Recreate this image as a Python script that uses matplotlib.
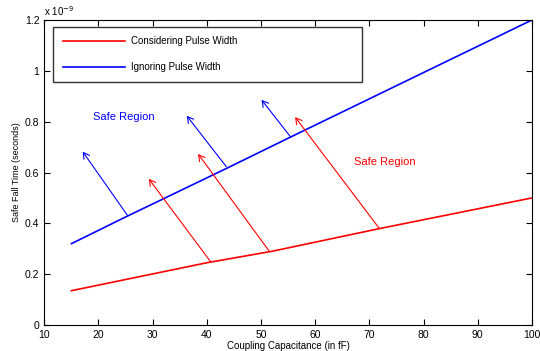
import matplotlib
matplotlib.use('Agg')
import matplotlib.pyplot as plt

# coupling capacitance (fF) and safe fall time (x 1e-9 s)
cap = [15, 40, 52, 72, 100]
t_pulse = [0.135, 0.245, 0.29, 0.38, 0.5]
cap_ign = [15, 25, 44, 55.5, 100]
t_ignore = [0.32, 0.425, 0.62, 0.74, 1.2]

# arrows: (base x, base y, tip x, tip y)
red_arrows = [(40.7, 0.249, 29.3, 0.575), (51.5, 0.291, 38.4, 0.673), (71.8, 0.381, 56.3, 0.818)]
blue_arrows = [(25.4, 0.43, 17.1, 0.682), (43.6, 0.623, 36.3, 0.823), (55.5, 0.739, 50.1, 0.886)]

plt.rcParams['font.family'] = ['Liberation Sans', 'DejaVu Sans']
plt.rcParams['font.size'] = 7

fig = plt.figure(figsize=(5.4, 3.51), dpi=100)
ax = fig.add_axes([0.082, 0.074, 0.903, 0.869])

ax.plot(cap, t_pulse, color='red', lw=1.2, label='Considering Pulse Width')
ax.plot(cap_ign, t_ignore, color='blue', lw=1.2, label='Ignoring Pulse Width')

for arrows, c in ((red_arrows, 'red'), (blue_arrows, 'blue')):
    for x0, y0, x1, y1 in arrows:
        ax.annotate('', xy=(x1, y1), xytext=(x0, y0),
                    arrowprops=dict(arrowstyle='->,head_length=0.6,head_width=0.35', color=c, lw=0.8,
                                    shrinkA=0, shrinkB=0))

ax.text(24.7, 0.819, 'Safe Region', color='blue', fontsize=8, ha='center', va='center')
ax.text(72.9, 0.643, 'Safe Region', color='red', fontsize=8, ha='center', va='center')

ax.set_xlim(10, 100)
ax.set_ylim(0, 1.2)
ax.set_xticks(range(10, 101, 10))
ax.set_yticks([0, 0.2, 0.4, 0.6, 0.8, 1.0, 1.2])
ax.set_yticklabels(['0', '0.2', '0.4', '0.6', '0.8', '1', '1.2'])
ax.tick_params(direction='in', top=True, right=True, length=4, labelsize=7.5)
ax.text(0.0, 1.005, 'x 10$^{-9}$', transform=ax.transAxes, fontsize=7, ha='left', va='bottom')

ax.set_xlabel('Coupling Capacitance (in fF)', fontsize=7, labelpad=1)
ax.set_ylabel('Safe Fall Time (seconds)', fontsize=6.5, labelpad=3)

leg = ax.legend(loc='upper left', bbox_to_anchor=(0.018, 0.793, 0.634, 0.185), mode='expand',
                handlelength=6.4, labelspacing=1.6, fontsize=7, fancybox=False,
                borderpad=1.0, handletextpad=0.6, borderaxespad=0)
leg.get_frame().set_edgecolor('black')
leg.get_frame().set_linewidth(1.0)

fig.savefig('out.png', dpi=100)
